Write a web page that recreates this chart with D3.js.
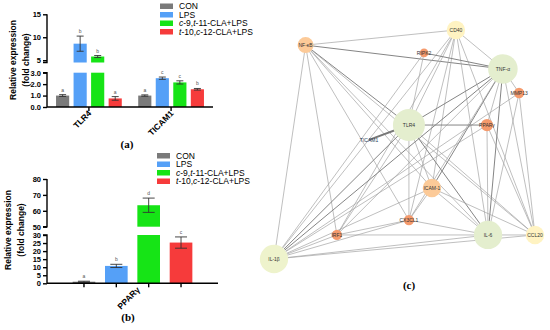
<!DOCTYPE html>
<html>
<head>
<meta charset="utf-8">
<script src="https://cdn.jsdelivr.net/npm/d3@7"></script>
<style>
  body { margin: 0; background: #fff; }
  svg { display: block; font-family: "Liberation Sans", Arial, sans-serif; }
  .ax path, .ax line { stroke: #000; stroke-width: 1.4; }
  .ax text { font-size: 7.5px; font-weight: bold; fill: #000; }
  .lab { font-size: 8.5px; font-weight: bold; }
  .leg { font-size: 8.5px; }
  .sig { font-size: 5px; fill: #555; }
  .panel { font-family: "Liberation Serif", serif; font-size: 11px; font-weight: bold; }
</style>
</head>
<body>
<svg id="chart" width="550" height="330"></svg>
<script>
// ---- data ----
var series = ['CON', 'LPS', 'c-9,t-11-CLA+LPS', 't-10,c-12-CLA+LPS']
var colors = ['#7a7a7a', '#55a0f7', '#16e416', '#f63b3b']

var genesA = ['TLR4', 'TICAM1']
var meansA = [[1.0, 8.6, 5.8, 0.75], [1.0, 2.52, 2.15, 1.55]]
var errsA = [[0.08, 1.65, 0.22, 0.16], [0.06, 0.1, 0.14, 0.07]]
var lettersA = [['a', 'b', 'b', 'a'], ['a', 'c', 'c', 'b']]
var ticksLowA = [0, 1, 2, 3]
var ticksHighA = [5, 10, 15]

var genesB = ['PPARγ']
var meansB = [[1.0, 10.8, 63.5, 25.3]]
var errsB = [[0.3, 1.0, 4.5, 3.5]]
var lettersB = [['a', 'b', 'd', 'c']]
var ticksLowB = [0, 5, 10, 15, 20, 25, 30]
var ticksHighB = [50, 60, 70, 80]

// network: layout coordinates (0-100), degree, colour group
var nodeNames = ['CD40', 'NF-κB', 'RIPK2', 'TNF-α', 'MMP13', 'TLR4', 'PPARγ', 'TICAM1', 'ICAM-1', 'CX3CL1', 'IRF1', 'IL-6', 'CCL20', 'IL-1β']
var nodeLX = [69.7, 12.1, 57.5, 87.7, 93.9, 51.7, 81.6, 36.4, 60.5, 51.7, 24.1, 82.0, 100, 0]
var nodeLY = [0, 6.6, 10, 17, 27.5, 41.5, 41.5, 48, 69, 83, 89.5, 89.5, 89.5, 100]
var nodeDeg = [7.5, 6.5, 3.5, 12, 4.2, 13, 5, 0.8, 7.5, 4.2, 4.2, 11.5, 7.5, 11.5]
var nodeGroup = [1, 2, 3, 0, 3, 0, 3, 4, 2, 3, 3, 0, 1, 5]
var groupColors = ['#e4eece', '#fff3c2', '#fcca98', '#f59a6c', '#6a87a8', '#eef3cc']
var edges = [
  ['NF-κB', 'CD40', 1], ['NF-κB', 'TNF-α', 2], ['NF-κB', 'IL-1β', 1], ['NF-κB', 'IRF1', 1],
  ['NF-κB', 'TLR4', 2], ['NF-κB', 'ICAM-1', 1], ['NF-κB', 'IL-6', 1], ['NF-κB', 'CX3CL1', 1], ['NF-κB', 'CCL20', 1],
  ['CD40', 'TNF-α', 1], ['CD40', 'TLR4', 1], ['CD40', 'IL-1β', 1], ['CD40', 'ICAM-1', 1],
  ['CD40', 'IL-6', 1], ['CD40', 'CCL20', 1], ['CD40', 'CX3CL1', 1], ['CD40', 'IRF1', 1],
  ['RIPK2', 'TNF-α', 2], ['RIPK2', 'TLR4', 1], ['RIPK2', 'IL-1β', 1],
  ['TNF-α', 'TLR4', 2], ['TNF-α', 'MMP13', 1], ['TNF-α', 'PPARγ', 1], ['TNF-α', 'IL-1β', 2], ['TNF-α', 'IL-6', 2],
  ['TNF-α', 'CCL20', 1], ['TNF-α', 'ICAM-1', 2], ['TNF-α', 'CX3CL1', 1], ['TNF-α', 'IRF1', 1],
  ['MMP13', 'IL-6', 1], ['MMP13', 'IL-1β', 1], ['MMP13', 'CCL20', 1],
  ['TLR4', 'PPARγ', 2], ['TLR4', 'TICAM1', 3], ['TLR4', 'IL-1β', 2], ['TLR4', 'IL-6', 2],
  ['TLR4', 'CX3CL1', 1], ['TLR4', 'ICAM-1', 1], ['TLR4', 'IRF1', 1], ['TLR4', 'CCL20', 1],
  ['PPARγ', 'IL-6', 1], ['PPARγ', 'IL-1β', 1], ['PPARγ', 'CCL20', 1],
  ['ICAM-1', 'IL-6', 1], ['ICAM-1', 'CX3CL1', 1], ['ICAM-1', 'IL-1β', 1], ['ICAM-1', 'CCL20', 1],
  ['CX3CL1', 'IL-6', 1], ['CX3CL1', 'IRF1', 1], ['CX3CL1', 'IL-1β', 1],
  ['IRF1', 'IL-6', 1], ['IRF1', 'IL-1β', 1],
  ['IL-6', 'CCL20', 1], ['IL-6', 'IL-1β', 1], ['CCL20', 'IL-1β', 1]
]

var svg = d3.select('#chart')

// legend text with italic c / t prefixes
function legendText (sel, label) {
  var parts = label.split(/([ct])(?=-)/)
  parts.forEach(function (p) {
    if (!p) return
    sel.append('tspan')
        .style('font-style', (p === 'c' || p === 't') ? 'italic' : 'normal')
        .text(p)
  })
}

/*
    --------------------------------------
    Broken-axis bar chart
*/
function barPanel (cfg) {
  var g = svg.append('g')

  var yLow = d3.scaleLinear().domain(cfg.low).range([cfg.base, cfg.lowTop])
  var yHigh = d3.scaleLinear().domain(cfg.high).range([cfg.highBottom, cfg.top])

  var x0 = d3.scaleBand()
      .domain(cfg.genes)
      .range([cfg.left, cfg.right])
      .paddingInner(cfg.padIn)
      .paddingOuter(cfg.padOut)

  var x1 = d3.scaleBand()
      .domain(series)
      .range([0, x0.bandwidth()])
      .paddingInner(cfg.barPad)

  var bars = []
  cfg.genes.forEach(function (gene, gi) {
    series.forEach(function (s, si) {
      bars.push({gene: gene, s: s, si: si, v: cfg.means[gi][si], e: cfg.errs[gi][si], l: cfg.letters[gi][si]})
    })
  })

  function yv (v) { return v <= cfg.low[1] ? yLow(v) : yHigh(v) }

  var bar = g.selectAll('.bar').data(bars).enter().append('g').classed('bar', true)
      .attr('transform', d => `translate(${x0(d.gene) + x1(d.s)},0)`)

  // lower part
  bar.append('rect')
      .attr('width', x1.bandwidth())
      .attr('y', d => yLow(Math.min(d.v, cfg.low[1])))
      .attr('height', d => cfg.base - yLow(Math.min(d.v, cfg.low[1])))
      .attr('fill', d => colors[d.si])

  // upper part
  bar.filter(d => d.v > cfg.high[0]).append('rect')
      .attr('width', x1.bandwidth())
      .attr('y', d => yHigh(d.v))
      .attr('height', d => cfg.highBottom - yHigh(d.v))
      .attr('fill', d => colors[d.si])

  // error bars
  var cx = x1.bandwidth() / 2
  var cw = cfg.cap
  bar.append('path')
      .attr('d', d => {
        var t = yv(d.v + d.e), b = yv(d.v - d.e)
        return `M${cx},${t}V${b}M${cx - cw},${t}H${cx + cw}M${cx - cw},${b}H${cx + cw}`
      })
      .attr('stroke', '#333')
      .attr('stroke-width', 0.9)
      .attr('fill', 'none')

  bar.append('text')
      .classed('sig', true)
      .attr('x', cx)
      .attr('y', d => yv(d.v + d.e) - 3)
      .attr('text-anchor', 'middle')
      .text(d => d.l)

  // axes
  var axLow = d3.axisLeft(yLow).tickValues(cfg.ticksLow).tickSize(4).tickPadding(2)
  var axHigh = d3.axisLeft(yHigh).tickValues(cfg.ticksHigh).tickSize(4).tickPadding(2)

  g.append('g').classed('ax', true)
      .attr('transform', `translate(${cfg.left},0)`)
      .call(axLow)
      .call(a => a.select('.domain').attr('d', `M-4,${cfg.lowTop}H0V${cfg.base}`))

  g.append('g').classed('ax', true)
      .attr('transform', `translate(${cfg.left},0)`)
      .call(axHigh)
      .call(a => a.select('.domain').attr('d', `M-4,${cfg.highBottom}H0V${cfg.top}`))

  // x axis
  var xTicks = cfg.tickEach
    ? bars.map(d => x0(d.gene) + x1(d.s) + x1.bandwidth() / 2)
    : cfg.genes.map(d => x0(d) + x0.bandwidth() / 2)

  var xa = g.append('g').classed('ax', true)
  xa.append('path')
      .attr('d', `M${cfg.left},${cfg.base}H${cfg.right}`)
      .attr('fill', 'none')
  xa.selectAll('line').data(xTicks).enter().append('line')
      .attr('x1', d => d).attr('x2', d => d)
      .attr('y1', cfg.base).attr('y2', cfg.base + 4)

  xa.selectAll('.gl').data(cfg.genes).enter().append('text')
      .classed('gl', true)
      .attr('text-anchor', 'end')
      .style('font-size', '8.5px')
      .attr('transform', d => `translate(${x0(d) + x0.bandwidth() / 2 + cfg.labShift},${cfg.base + 7}) rotate(-45)`)
      .text(d => d)

  // y label
  var ly = g.append('text').classed('lab', true)
      .attr('text-anchor', 'middle')
      .attr('transform', `translate(${cfg.labX},${cfg.labY}) rotate(-90)`)
  ly.append('tspan').attr('x', 0).attr('dy', 0).text('Relative expression')
  ly.append('tspan').attr('x', 0).attr('dy', 12.5).text('(fold change)')

  // legend
  var lg = g.selectAll('.lg').data(series).enter().append('g').classed('lg', true)
      .attr('transform', (d, i) => `translate(${cfg.legX},${cfg.legY + i * 8.5})`)
  lg.append('rect').attr('width', 13).attr('height', 5.5).attr('y', -4.5)
      .attr('fill', (d, i) => colors[i])
  lg.append('text').classed('leg', true).attr('x', 19).attr('y', 1.2)
      .each(function (d) { legendText(d3.select(this), d) })

  svg.append('text').classed('panel', true)
      .attr('x', cfg.panelX).attr('y', cfg.panelY)
      .attr('text-anchor', 'middle')
      .text(cfg.panel)
}

barPanel({
  genes: genesA, means: meansA, errs: errsA, letters: lettersA,
  low: [0, 3], high: [4.5, 15], ticksLow: ticksLowA, ticksHigh: ticksHighA,
  base: 107, lowTop: 72.7, highBottom: 62.5, top: 14.3,
  left: 47, right: 213, padIn: 0.2, padOut: 0.11, barPad: 0.25, cap: 3.5,
  tickEach: false, labShift: 3,
  labX: 16, labY: 60, legX: 160, legY: 8, panel: '(a)', panelX: 127, panelY: 148
})

barPanel({
  genes: genesB, means: meansB, errs: errsB, letters: lettersB,
  low: [0, 30], high: [50, 80], ticksLow: ticksLowB, ticksHigh: ticksHighB,
  base: 283.3, lowTop: 235, highBottom: 226.7, top: 179,
  left: 47, right: 218, padIn: 0.3, padOut: 0.15, barPad: 0.3, cap: 6,
  tickEach: true, labShift: 8,
  labX: 11, labY: 230, legX: 157, legY: 157.5, panel: '(b)', panelX: 128, panelY: 321
})

/*
    --------------------------------------
    Interaction network
*/
var nx = d3.scaleLinear().domain([0, 100]).range([274, 535])
var ny = d3.scaleLinear().domain([0, 100]).range([30, 259])
var nr = d3.scaleLinear().domain([0, 13]).range([0, 16])
var ew = d3.scaleOrdinal().domain([1, 2, 3]).range([0.7, 1.0, 2])
var ec = d3.scaleOrdinal().domain([1, 2, 3]).range(['#a4a4a4', '#858585', '#777777'])

var nodes = nodeNames.map((n, i) => ({name: n, x: nx(nodeLX[i]), y: ny(nodeLY[i]), r: nr(nodeDeg[i]), g: nodeGroup[i]}))
var byName = {}
nodes.forEach(n => { byName[n.name] = n })

var net = svg.append('g')

net.selectAll('.edge').data(edges).enter().append('line')
    .classed('edge', true)
    .attr('x1', d => byName[d[0]].x).attr('y1', d => byName[d[0]].y)
    .attr('x2', d => byName[d[1]].x).attr('y2', d => byName[d[1]].y)
    .attr('stroke', d => ec(d[2]))
    .attr('stroke-width', d => ew(d[2]))

var node = net.selectAll('.node').data(nodes).enter().append('g')
    .classed('node', true)
    .attr('transform', d => `translate(${d.x},${d.y})`)

node.filter(d => d.g !== 4).append('circle')
    .attr('r', d => d.r)
    .attr('fill', d => groupColors[d.g])

node.append('text')
    .attr('text-anchor', 'middle')
    .attr('dy', '0.35em')
    .style('font-size', '5px')
    .attr('fill', d => d.g === 4 ? '#2c3e5c' : '#333')
    .text(d => d.name)

svg.append('text').classed('panel', true)
    .attr('x', 409).attr('y', 289)
    .attr('text-anchor', 'middle')
    .text('(c)')
</script>
</body>
</html>
